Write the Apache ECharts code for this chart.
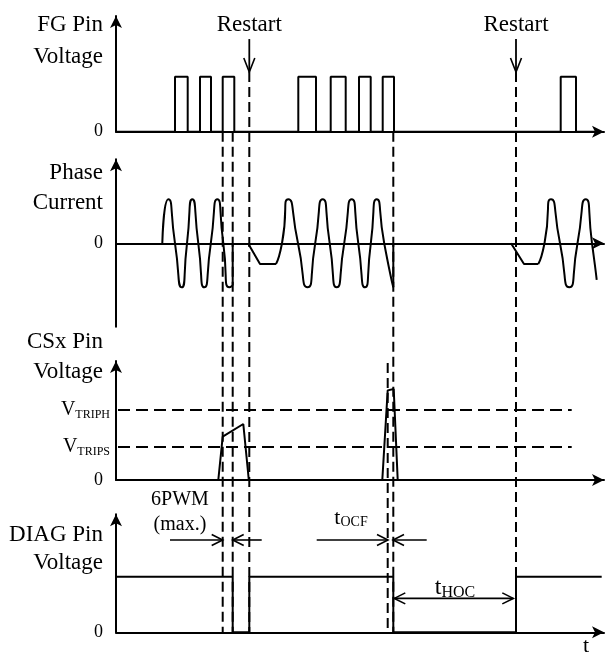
<!DOCTYPE html>
<html><head><meta charset="utf-8">
<script src="https://cdn.jsdelivr.net/npm/echarts@6/dist/echarts.min.js"></script>
<style>html,body{margin:0;padding:0;background:#fff}#c{width:613px;height:652px}</style>
</head><body><div id="c"></div><script>
// ---------- data (time axis in arbitrary units) ----------
const T_MAX = 488;
// FG pin pulses
const fgRise = [59, 84, 106.7, 182.3, 214.7, 243, 266.7, 444.7];
const fgFall = [71.7, 95, 118.3, 200, 229.7, 254.7, 278, 460];
// Phase current bursts (key points: zeros, peaks, troughs)
const burst1T = [46.3, 52.3, 59, 65.7, 71, 76.3, 82.3, 88.3, 94.8, 101.3, 107.3, 113.3, 116.7];
const burst1V = [0, 1, 0, -1, 0, 1, 0, -1, 0, 1, 0, -1, -0.96];
const burst2T = [160, 166, 172.3, 182, 191.5, 199.2, 206.7, 213.7, 220.7, 228.2, 235.7, 242.3, 249, 254.8, 260.7, 268.2, 277.3];
const burst2V = [-0.47, 0, 1, 0, -1, 0, 1, 0, -1, 0, 1, 0, -1, 0, 1, 0, -1];
const burst3T = [422.3, 428.5, 435, 444, 453.3, 461.5, 469.7, 476, 480.7];
const burst3V = [-0.47, 0, 1, 0, -1, 0, 1, 0, -0.83];
// straight pieces of the phase current
const phaseLinks = [
  [[116.7, -0.96], [116.7, 0]],
  [[132, 0], [144, -0.47], [160, -0.47]],
  [[277.3, -1], [277.3, 0]],
  [[395, 0], [408, -0.47], [422.3, -0.47]]
];
// CSx pin voltage
const csxT = [0, 102.3, 106.7, 127.3, 132.8, 266.3, 271.7, 277.7, 281.7, 480];
const csxV = [0, 0, 0.62, 0.8, 0, 0, 1.28, 1.3, 0, 0];
const VTRIPS = 0.47;
const VTRIPH = 1.0;
const tripLineT = [2, 455.7];
// DIAG pin
const diagStartLevel = 1;
const diagEdgeT = [116.7, 133.3, 277.3, 400];
const diagEdgeLevel = [0, 1, 0, 1];
const diagEndT = 485.7;
// restart events
const restartT = [133.3, 400];
// vertical guides: [t, fromPanel, fromValue, toPanel, toValue]
const guides = [
  [106.7, 0, 0, 3, 0],
  [116.7, 0, 0, 3, 0],
  [133.3, 0, 1.085, 3, 0],
  [271.7, 2, 1.67, 3, 0],
  [277.3, 0, 0, 3, 0],
  [400, 0, 1.085, 3, 0]
];

// ---------- chart ----------
const FONT = "'Liberation Serif','Times New Roman',serif";
const BLACK = '#000';
const TITLE_SIZE = 23;
const chart = echarts.init(document.getElementById('c'));

const gridDefs = [
  {top: 16, height: 115.7, min: 0, max: 2.104, name: 'FG Pin\nVoltage', gap: 7, lh: 32},
  {top: 159.3, height: 167.4, min: -1.895, max: 1.909, name: 'Phase\nCurrent', gap: 1, lh: 30},
  {top: 361, height: 119, min: 0, max: 1.7, name: 'CSx Pin\nVoltage', gap: 34, lh: 30},
  {top: 514.3, height: 118, min: 0, max: 2.122, name: 'DIAG Pin\nVoltage', gap: -7, lh: 28}
];
const arrowSym = {symbol: ['none', 'arrow'], symbolSize: [9, 12], lineStyle: {color: BLACK, width: 2}};

const grid = gridDefs.map(g => ({left: 116, width: T_MAX, top: g.top, height: g.height, containLabel: false, outerBoundsMode: 'none'}));
const xAxis = gridDefs.map((g, i) => ({
  type: 'value', gridIndex: i, min: 0, max: T_MAX,
  axisLine: Object.assign({show: true, onZero: true}, arrowSym),
  axisTick: {show: false}, axisLabel: {show: false}, splitLine: {show: false},
  name: i === 3 ? 't' : '', nameLocation: 'end', nameGap: -18, nameMoveOverlap: false,
  nameTextStyle: {fontFamily: FONT, fontSize: 22, color: BLACK, align: 'center', verticalAlign: 'top', lineHeight: 22, padding: [3, 0, 0, 0]}
}));
const yAxis = gridDefs.map((g, i) => ({
  type: 'value', gridIndex: i, min: g.min, max: g.max,
  axisLine: Object.assign({show: true, onZero: false}, arrowSym),
  axisTick: {show: false}, splitLine: {show: false},
  axisLabel: i === 2 ? {
    customValues: [0, VTRIPS, VTRIPH], margin: 6, color: BLACK,
    formatter: v => v === 0 ? '{z|0}' : (v === VTRIPH ? '{v|V}{s|TRIPH}' : '{v|V}{s|TRIPS}'),
    rich: {
      z: {fontFamily: FONT, fontSize: 18, color: BLACK, padding: [0, 7, 0, 0]},
      v: {fontFamily: FONT, fontSize: 20, color: BLACK, lineHeight: 22},
      s: {fontFamily: FONT, fontSize: 12, color: BLACK, lineHeight: 12, verticalAlign: 'bottom'}
    }
  } : {customValues: [0], margin: 13, formatter: () => '0', fontFamily: FONT, fontSize: 18, color: BLACK},
  name: g.name, nameLocation: 'end', nameGap: g.gap, nameMoveOverlap: false,
  nameTextStyle: {fontFamily: FONT, fontSize: TITLE_SIZE, color: BLACK, align: 'right', verticalAlign: 'top', lineHeight: g.lh, padding: [0, 13, 0, 0]}
}));

const lineBase = {type: 'line', symbol: 'none', animation: false, lineStyle: {color: BLACK, width: 2}, z: 3};
const series = [];
// FG
const fgPts = [[0, 0]];
fgRise.forEach((r, i) => { fgPts.push([r, 0], [r, 1], [fgFall[i], 1], [fgFall[i], 0]); });
fgPts.push([480, 0]);
series.push(Object.assign({}, lineBase, {xAxisIndex: 0, yAxisIndex: 0, data: fgPts}));
// Phase
[[burst1T, burst1V], [burst2T, burst2V], [burst3T, burst3V]].forEach(([ts, vs]) => {
  series.push(Object.assign({}, lineBase, {xAxisIndex: 1, yAxisIndex: 1, smooth: 0.75, data: ts.map((t, k) => [t, vs[k]])}));
});
phaseLinks.forEach(seg => {
  series.push(Object.assign({}, lineBase, {xAxisIndex: 1, yAxisIndex: 1, data: seg}));
});
// CSx
series.push(Object.assign({}, lineBase, {
  xAxisIndex: 2, yAxisIndex: 2, data: csxT.map((t, k) => [t, csxV[k]]),
  markLine: {
    symbol: 'none', silent: true, animation: false,
    lineStyle: {color: BLACK, width: 2, type: [12, 6]}, label: {show: false},
    data: [VTRIPH, VTRIPS].map(v => [{coord: [tripLineT[0], v]}, {coord: [tripLineT[1], v]}])
  }
}));
// DIAG
const diagPts = [[0, diagStartLevel]];
let lvl = diagStartLevel;
diagEdgeT.forEach((t, i) => { diagPts.push([t, lvl], [t, diagEdgeLevel[i]]); lvl = diagEdgeLevel[i]; });
diagPts.push([diagEndT, lvl]);
series.push(Object.assign({}, lineBase, {xAxisIndex: 3, yAxisIndex: 3, data: diagPts}));

chart.setOption({
  backgroundColor: '#fff', animation: false,
  grid, xAxis, yAxis, series
});

// ---------- annotations placed through the axes' scales ----------
const P = (g, t, v) => chart.convertToPixel({gridIndex: g}, [t, v]);
const gfx = [];
const line = (a, b, dash, w) => gfx.push({type: 'line', z: 10, shape: {x1: a[0], y1: a[1], x2: b[0], y2: b[1]},
  style: {stroke: BLACK, lineWidth: w || 2, lineDash: dash || null}});
const head = (p, dir) => {
  const L = dir === 'down' ? 14 : 11, H = 5.5;
  let pts;
  if (dir === 'right') pts = [[p[0] - L, p[1] - H], p, [p[0] - L, p[1] + H]];
  else if (dir === 'left') pts = [[p[0] + L, p[1] - H], p, [p[0] + L, p[1] + H]];
  else pts = [[p[0] - H, p[1] - L], p, [p[0] + H, p[1] - L]];
  gfx.push({type: 'polyline', z: 10, shape: {points: pts}, style: {stroke: BLACK, fill: null, lineWidth: 1.6}});
};
const text = (p, str, size, rich, lh) => gfx.push({type: 'text', z: 10, x: p[0], y: p[1],
  style: {text: str, fontFamily: FONT, fontSize: size, fill: BLACK, align: 'center', verticalAlign: 'middle', rich: rich || undefined, lineHeight: lh || undefined}});

guides.forEach(([t, g1, v1, g2, v2]) => line(P(g1, t, v1), P(g2, t, v2), [10, 5], 2));
restartT.forEach(t => {
  const a = P(0, t, 1.685), b = P(0, t, 1.085);
  line(a, b, null, 1.8);
  head(b, 'down');
  text(P(0, t, 1.95), 'Restart', TITLE_SIZE);
});
// 6PWM (max.)
const yDim = 1.66;
line(P(3, 54, yDim), P(3, 106.7, yDim), null, 1.6); head(P(3, 106.7, yDim), 'right');
line(P(3, 145.7, yDim), P(3, 116.7, yDim), null, 1.6); head(P(3, 116.7, yDim), 'left');
text(P(3, 64, 2.16), '6PWM\n(max.)', 20, null, 25);
// tOCF
line(P(3, 200.7, yDim), P(3, 272, yDim), null, 1.6); head(P(3, 272, yDim), 'right');
line(P(3, 310.7, yDim), P(3, 277, yDim), null, 1.6); head(P(3, 277, yDim), 'left');
const subRich = (big, small) => ({
  t: {fontFamily: FONT, fontSize: big, fill: BLACK, color: BLACK, lineHeight: big + 2},
  s: {fontFamily: FONT, fontSize: small, fill: BLACK, color: BLACK, lineHeight: small, verticalAlign: 'bottom'}
});
text(P(3, 235, 2.06), '{t|t}{s|OCF}', 22, subRich(22, 14));
// tHOC
const yHoc = 0.61;
line(P(3, 278.3, yHoc), P(3, 397.3, yHoc), null, 1.6);
head(P(3, 278.3, yHoc), 'left'); head(P(3, 397.3, yHoc), 'right');
text(P(3, 339, 0.8), '{t|t}{s|HOC}', 24, subRich(24, 16));

chart.setOption({graphic: gfx});
</script></body></html>
